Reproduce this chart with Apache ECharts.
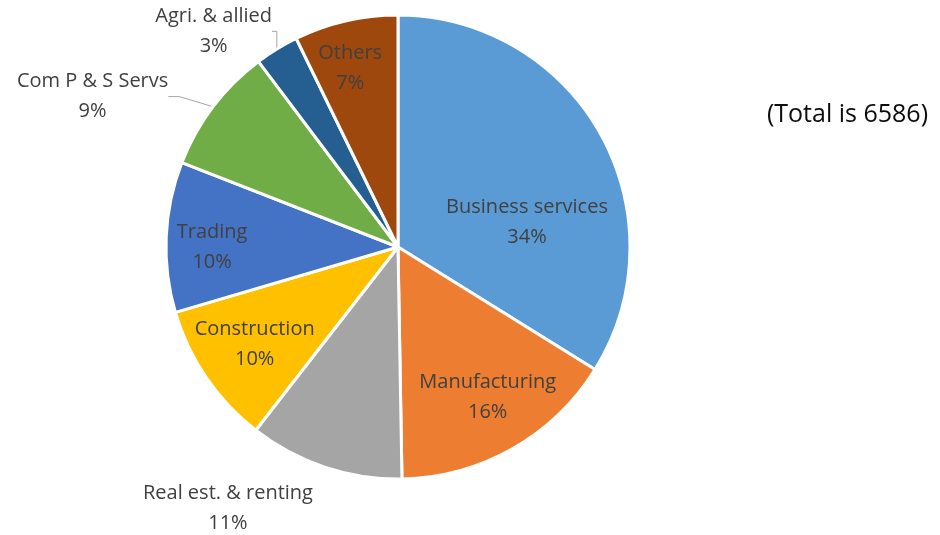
<!DOCTYPE html>
<html>
<head>
<meta charset="utf-8">
<script src="https://cdn.jsdelivr.net/npm/echarts@6/dist/echarts.min.js"></script>
<style>
    html, body { margin: 0; padding: 0; background: #fff; }
    #main { width: 940px; height: 535px; }
</style>
</head>
<body>
<div id="main"></div>
<script>
    // sectors, clockwise from 12 o'clock
    var sectors = ['Business services', 'Manufacturing', 'Real est. & renting', 'Construction',
        'Trading', 'Com P & S Servs', 'Agri. & allied', 'Others'];
    var counts = [2230, 1045, 710, 655, 690, 580, 200, 476];
    var colours = ['#5B9BD5', '#ED7D31', '#A5A5A5', '#FFC000', '#4472C4', '#70AD47', '#255E91', '#9E480E'];
    var totalText = '(Total is 6586)';

    // which labels sit outside the pie
    var outsideLabels = ['Real est. & renting', 'Com P & S Servs', 'Agri. & allied'];
    // nudge of each label centre from where echarts puts it
    var labelShift = [[25, 33], [31, 47], [28, 27], [-45, 30], [-67, 5], [-5, 8], [23, -5], [-21, -63]];

    var font = 'Open Sans';

    var my_chart = echarts.init(document.getElementById('main'));

    var pieData = sectors.map(function (name, i) {
        var item = {
            name: name,
            value: counts[i],
            itemStyle: { color: colours[i] }
        };
        if (outsideLabels.indexOf(name) >= 0) {
            item.label = { position: 'outside' };
            if (name === 'Real est. & renting') {
                item.labelLine = { show: false };
            } else if (name === 'Com P & S Servs') {
                item.labelLine = { show: true, length: 30, length2: 11 };
            } else {
                item.labelLine = { show: true, length: 15, length2: 15 };
            }
        }
        return item;
    });

    var option = {
        animation: false,
        title: {
            text: totalText,
            right: 7,
            top: 97,
            textStyle: {
                fontFamily: font,
                fontSize: 25,
                fontWeight: 'normal',
                color: '#0d0d0d'
            }
        },
        series: [{
            type: 'pie',
            center: [398, 247],
            radius: 232,
            startAngle: 90,
            clockwise: true,
            avoidLabelOverlap: false,
            percentPrecision: 0,
            data: pieData,
            itemStyle: {
                borderColor: '#fff',
                borderWidth: 3
            },
            label: {
                show: true,
                position: 'inside',
                formatter: '{b}\n{d}%',
                fontFamily: font,
                fontSize: 20,
                lineHeight: 30,
                color: '#404040'
            },
            labelLine: {
                lineStyle: { color: '#A6A6A6', width: 1 }
            },
            labelLayout: function (p) {
                var s = labelShift[p.dataIndex];
                var r = p.labelRect;
                return {
                    x: r.x + r.width / 2 + s[0],
                    y: r.y + r.height / 2 + s[1],
                    align: 'center',
                    verticalAlign: 'middle'
                };
            }
        }]
    };

    my_chart.setOption(option);
</script>
</body>
</html>
